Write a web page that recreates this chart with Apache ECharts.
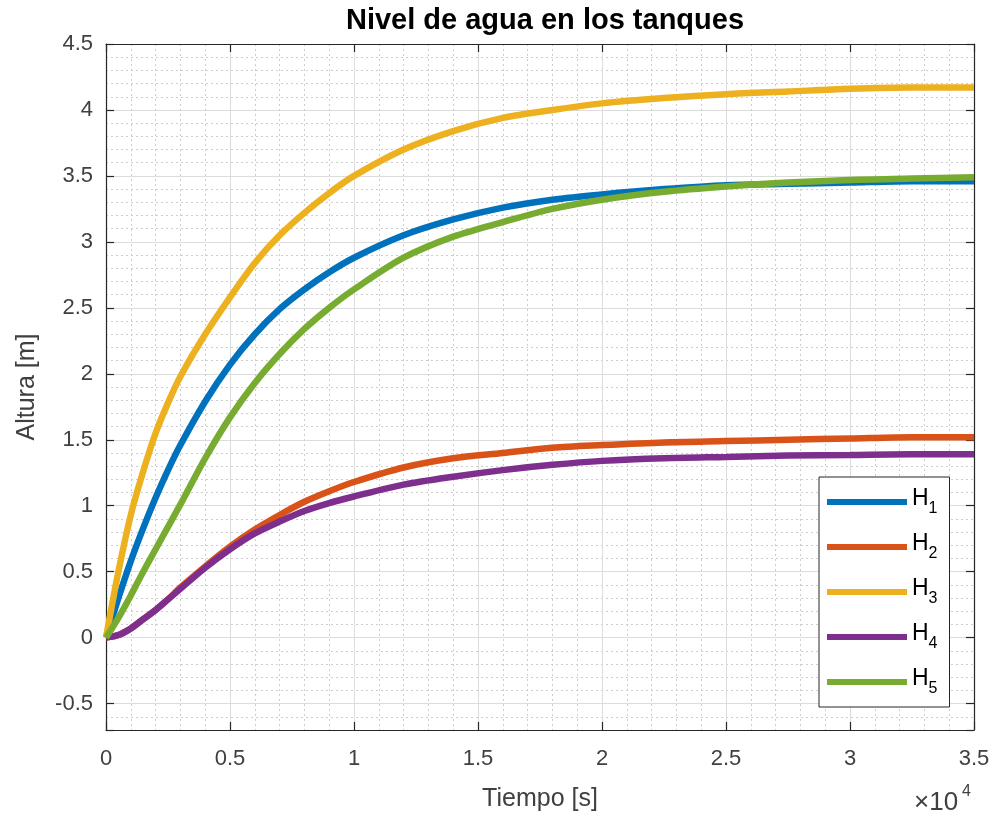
<!DOCTYPE html>
<html>
<head>
<meta charset="utf-8">
<style>html,body{margin:0;padding:0;background:#fff}#c{width:996px;height:818px}</style>
<script src="https://cdn.jsdelivr.net/npm/echarts@6/dist/echarts.min.js"></script>
</head>
<body>
<div id="c"></div>
<script>
// time in seconds
const timeSec = [0,500,1000,1500,2000,2500,3000,4000,5000,6000,7000,8000,9000,10000,12000,14000,16000,18000,20000,22500,25000,27500,30000,32500,35000];
const H1 = [0,0.30,0.58,0.83,1.06,1.27,1.46,1.79,2.07,2.30,2.49,2.64,2.77,2.88,3.05,3.17,3.26,3.32,3.36,3.40,3.43,3.44,3.45,3.46,3.46];
const H2 = [0,0.02,0.07,0.14,0.21,0.29,0.38,0.54,0.69,0.82,0.93,1.03,1.11,1.18,1.29,1.36,1.40,1.44,1.46,1.48,1.49,1.50,1.51,1.52,1.52];
const H3 = [0,0.50,0.93,1.26,1.55,1.78,1.98,2.30,2.58,2.84,3.05,3.22,3.37,3.50,3.70,3.84,3.94,4.00,4.05,4.09,4.12,4.14,4.16,4.17,4.17];
const H4 = [0,0.02,0.07,0.14,0.21,0.29,0.37,0.53,0.67,0.79,0.88,0.96,1.02,1.07,1.16,1.22,1.27,1.31,1.34,1.36,1.37,1.38,1.385,1.39,1.39];
const H5 = [0,0.15,0.32,0.50,0.67,0.84,1.01,1.36,1.67,1.93,2.15,2.34,2.50,2.64,2.88,3.04,3.15,3.25,3.32,3.38,3.42,3.45,3.47,3.48,3.49];
const seriesNames = ['H1','H2','H3','H4','H5'];
const seriesValues = [H1,H2,H3,H4,H5];
const colors = ['#0072BD','#D95319','#EDB120','#7E2F8E','#77AC30'];
const xTickLabels = ['0','0.5','1','1.5','2','2.5','3','3.5'];

const FONT = 'Liberation Sans, Arial, Helvetica, sans-serif';
const AX = '#262626';
const chart = echarts.init(document.getElementById('c'), null, {renderer:'canvas'});

const gridPos = {left:106, right:22, top:44, bottom:88};

const option = {
  animation:false,
  backgroundColor:'#ffffff',
  textStyle:{fontFamily:FONT},
  title:{
    text:'Nivel de agua en los tanques',
    left:540, top:1, textAlign:'center',
    textStyle:{fontFamily:FONT, fontSize:29, fontWeight:'bold', color:'#000'}
  },
  grid:Object.assign({containLabel:false, outerBoundsMode:'none'}, gridPos),
  legend:{
    orient:'vertical',
    left:819, top:477,
    padding:[10,12,10,8],
    itemGap:15,
    itemWidth:80, itemHeight:6,
    icon:'rect',
    borderColor:AX, borderWidth:1,
    backgroundColor:'#fff',
    data:seriesNames,
    formatter:function(n){return '{h|H}{s|'+n.slice(1)+'}';},
    textStyle:{
      fontFamily:FONT, color:'#000',
      rich:{
        h:{fontFamily:FONT, fontSize:23, lineHeight:30, verticalAlign:'top', color:'#000'},
        s:{fontFamily:FONT, fontSize:16, lineHeight:16, verticalAlign:'bottom', color:'#000'}
      }
    }
  },
  xAxis:[
    {
      type:'value', position:'bottom', min:0, max:35000, interval:5000,
      axisLine:{show:true, onZero:false, lineStyle:{color:AX, width:1.2}},
      axisTick:{show:true, inside:true, length:8, lineStyle:{color:AX, width:1.2}},
      axisLabel:{margin:18, fontSize:22, color:'#404040', fontFamily:FONT,
        formatter:function(v){const i=Math.round(v/5000); return xTickLabels[i]||'';}},
      splitLine:{show:true, lineStyle:{color:'#dcdcdc', width:1}},
      minorTick:{show:false, splitNumber:5},
      minorSplitLine:{show:true, lineStyle:{color:'#cdcdcd', width:1, type:[2,3]}},
      name:'Tiempo [s]', nameLocation:'middle', nameGap:57,
      nameTextStyle:{fontSize:25, color:'#404040', fontFamily:FONT}
    },
    {
      type:'value', position:'top', min:0, max:35000, interval:5000,
      axisLine:{show:true, onZero:false, lineStyle:{color:AX, width:1.2}},
      axisTick:{show:true, inside:true, length:8, lineStyle:{color:AX, width:1.2}},
      axisLabel:{show:false}, splitLine:{show:false}
    }
  ],
  yAxis:[
    {
      // minor grid every 0.1
      type:'value', position:'left', min:-0.7, max:4.5, interval:0.1,
      axisLine:{show:false}, axisTick:{show:false}, axisLabel:{show:false},
      splitLine:{show:true, lineStyle:{color:'#cdcdcd', width:1, type:[2,3]}}
    },
    {
      type:'value', position:'left', min:-0.7, max:4.5, minInterval:0.5, maxInterval:0.5, splitNumber:10,
      axisLine:{show:true, onZero:false, lineStyle:{color:AX, width:1.2}},
      axisTick:{show:true, inside:true, length:8, lineStyle:{color:AX, width:1.2}},
      axisLabel:{margin:13, fontSize:22, color:'#404040', fontFamily:FONT,
        formatter:function(v){
          const k=Math.round(v*2);
          if(Math.abs(v*2-k)>1e-6) return '';
          return String(Math.round(v*10)/10);
        }},
      splitLine:{show:true, lineStyle:{color:'#dcdcdc', width:1}},
      name:'Altura [m]', nameLocation:'middle', nameGap:66,
      nameTextStyle:{fontSize:25, color:'#404040', fontFamily:FONT}
    },
    {
      type:'value', position:'right', min:-0.7, max:4.5, minInterval:0.5, maxInterval:0.5, splitNumber:10,
      axisLine:{show:true, onZero:false, lineStyle:{color:AX, width:1.2}},
      axisTick:{show:true, inside:true, length:8, lineStyle:{color:AX, width:1.2}},
      axisLabel:{show:false}, splitLine:{show:false}
    }
  ],
  graphic:[
    {type:'text', left:914, top:790, z:10,
      style:{text:'×10', fontFamily:FONT, fontSize:26, fill:'#404040'}},
    {type:'text', left:962, top:784, z:10,
      style:{text:'4', fontFamily:FONT, fontSize:16, fill:'#404040'}}
  ],
  series:seriesNames.map(function(n,i){
    return {
      name:n, type:'line', xAxisIndex:0, yAxisIndex:1,
      data:timeSec.map(function(t,j){return [t, seriesValues[i][j]];}),
      showSymbol:false, symbol:'none',
      smooth:0.3,
      lineStyle:{width:6.5, color:colors[i]},
      itemStyle:{color:colors[i]},
      z:2+i
    };
  })
};
chart.setOption(option);
</script>
</body>
</html>
